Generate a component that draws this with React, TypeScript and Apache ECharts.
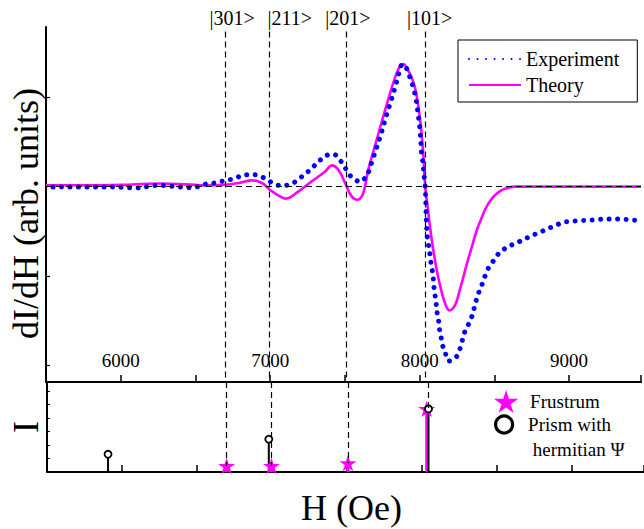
import { useEffect, useRef } from 'react';
import * as echarts from 'echarts';

// ---------- data ----------
const X_MIN = 5500;
const X_MAX = 9481;
const xTickLabels = [6000, 7000, 8000, 9000];

const expH = [
  5547, 5603, 5654, 5710, 5765, 5820, 5870, 5925, 5980, 6036, 6080, 6142, 6191, 6246, 6302, 6353, 6409, 6464, 6517, 6569, 6624,
  6675, 6730, 6786, 6839, 6890, 6945, 6997, 7052, 7105, 7161, 7214, 7268, 7318, 7372, 7423, 7474, 7545, 7603, 7649, 7678,
  7700, 7722, 7740, 7756, 7774, 7789, 7807, 7824, 7838, 7855, 7867, 7884, 7911, 7929, 7949, 7967, 7980, 7989, 8000, 8007,
  8011, 8022, 8029, 8037, 8040, 8043, 8045, 8051, 8062, 8071, 8077, 8089, 8095, 8104, 8111, 8117, 8127, 8133, 8144, 8155,
  8171, 8195, 8244, 8270, 8300, 8326, 8350, 8377, 8395, 8417, 8437, 8461, 8495, 8533, 8588, 8643, 8694, 8750, 8803, 8854,
  8906, 8961, 9014, 9065, 9121, 9176, 9232, 9287, 9342, 9398, 9449,
];
const expV = [
  -0.003, -0.003, -0.005, -0.005, -0.005, -0.005, -0.003, -0.003, -0.005, -0.01, -0.015, -0.012, 0.005, 0.015, 0.01, 0.003, -0.005, -0.012, 0.0, 0.03, 0.04,
  0.059, 0.078, 0.109, 0.134, 0.134, 0.109, 0.059, 0.015, 0.015, 0.048, 0.115, 0.19, 0.272, 0.347, 0.366, 0.283, 0.104, 0.056, 0.134, 0.265,
  0.377, 0.489, 0.582, 0.675, 0.78, 0.862, 0.955, 1.049, 1.131, 1.235, 1.31, 1.374, 1.329, 1.254, 1.161, 1.049, 0.937, 0.825, 0.675, 0.526,
  0.395, 0.265, 0.134, 0.003, -0.127, -0.277, -0.406, -0.557, -0.686, -0.781, -0.873, -0.985, -1.116, -1.228, -1.321, -1.414, -1.508, -1.601, -1.694, -1.788,
  -1.862, -1.956, -1.912, -1.817, -1.638, -1.545, -1.452, -1.284, -1.19, -1.097, -1.004, -0.91, -0.829, -0.742, -0.675, -0.635, -0.594, -0.549, -0.512, -0.474,
  -0.437, -0.4, -0.389, -0.381, -0.377, -0.373, -0.362, -0.362, -0.362, -0.37, -0.377,
];

const theoryH = [
  5500, 5800, 6000, 6250, 6500, 6523, 6702, 6790, 6879, 6945, 6997, 7057, 7105, 7190, 7278, 7368, 7412, 7456, 7501, 7545,
  7585, 7623, 7656, 7700, 7744, 7789, 7834, 7867, 7889, 7922, 7967, 8000, 8022, 8037, 8055, 8077, 8100, 8122, 8150, 8175,
  8200, 8225, 8244, 8270, 8288, 8320, 8344, 8380, 8410, 8440, 8477, 8515, 8555, 8600, 8633, 9000, 9481,
];
const theoryV = [
  0.015, 0.015, 0.02, 0.035, 0.02, 0.015, 0.022, 0.041, 0.071, 0.041, -0.034, -0.1, -0.134, -0.053, 0.059, 0.171, 0.239, 0.19, 0.041, -0.109,
  -0.146, -0.071, 0.19, 0.451, 0.713, 0.974, 1.217, 1.347, 1.374, 1.31, 1.123, 0.787, 0.414, 0.003, -0.25, -0.55, -0.8, -1.0, -1.2, -1.33,
  -1.389, -1.36, -1.302, -1.15, -1.041, -0.84, -0.705, -0.5, -0.37, -0.25, -0.146, -0.08, -0.034, -0.01, 0, 0, 0,
];

const stateLabels = ['|301>', '|211>', '|201>', '|101>'];
const stateH = [6698, 6997, 7507, 8040];
const stateLabelShift = [7, 20, 2, 4];

const frustrumH = [6698, 6997, 7507, 8032];
const frustrumI = [0.45, 0.45, 0.66, 4.66];
const prismH = [5907, 6979, 8044];
const prismI = [1.31, 2.42, 4.66];

const FONT = "'Liberation Serif', 'Times New Roman', serif";
const STAR =
  'path://M0,-10L2.245,-3.09L9.51,-3.09L3.633,1.18L5.88,8.09L0,3.82L-5.88,8.09L-3.633,1.18L-9.51,-3.09L-2.245,-3.09Z';

const zip = (a: number[], b: number[]) => a.map((v, i) => [v, b[i]]);

export default function App() {
  const ref = useRef<HTMLDivElement>(null);
  useEffect(() => {
    if (!ref.current) return;
    const chart = echarts.init(ref.current, null, { renderer: 'svg' });

    const axisLine = { show: true, onZero: false, lineStyle: { color: '#000', width: 2 } };
    const dash = { color: '#000', type: [6, 4], width: 1.2 };
    const stem = (color: string, width: number) => (params: any, api: any) => {
      const p0 = api.coord([api.value(0), 0]);
      const p1 = api.coord([api.value(0), api.value(1)]);
      return {
        type: 'line',
        shape: { x1: p0[0], y1: p0[1], x2: p1[0], y2: p1[1] },
        style: { stroke: color, lineWidth: width },
      };
    };

    chart.setOption({
      animation: false,
      backgroundColor: '#fff',
      textStyle: { fontFamily: FONT, color: '#000' },
      grid: [
        { left: 46, right: 0, top: 27, height: 355 },
        { left: 46, right: 0, top: 382, height: 90 },
      ],
      xAxis: [
        {
          type: 'value', gridIndex: 0, min: X_MIN, max: X_MAX, interval: 500,
          axisLine, splitLine: { show: false },
          axisTick: { inside: true, length: 7, lineStyle: { color: '#000', width: 1.5 } },
          axisLabel: {
            inside: true, margin: 12, fontSize: 19, fontFamily: FONT, color: '#000',
            formatter: (v: number) => (xTickLabels.includes(v) ? String(v) : ''),
          },
        },
        {
          type: 'value', gridIndex: 1, min: X_MIN, max: X_MAX, interval: 500,
          axisLine, splitLine: { show: false },
          axisTick: { inside: true, length: 7, lineStyle: { color: '#000', width: 1.5 } },
          axisLabel: { show: false },
          name: 'H (Oe)', nameLocation: 'middle', nameGap: 18,
          nameTextStyle: { fontSize: 36, fontFamily: FONT, color: '#000', padding: [0, 0, 0, 12] },
        },
      ],
      yAxis: [
        {
          type: 'value', gridIndex: 0, min: -2.19, max: 1.79,
          axisLine, splitLine: { show: false }, axisLabel: { show: false },
          axisTick: { inside: true, length: 4, customValues: [-2, -1, 0, 1], lineStyle: { color: '#000', width: 1.2 } },
          name: 'dI/dH (arb. units)', nameLocation: 'middle', nameGap: 2,
          nameTextStyle: { fontSize: 36, fontFamily: FONT, color: '#000', padding: [0, 18, 0, 0] },
        },
        {
          type: 'value', gridIndex: 1, min: 0, max: 6.65, interval: 1,
          axisLine, splitLine: { show: false }, axisLabel: { show: false },
          axisTick: { inside: true, length: 3, lineStyle: { color: '#000', width: 1 } },
          name: 'I', nameLocation: 'middle', nameGap: 3,
          nameTextStyle: { fontSize: 36, fontFamily: FONT, color: '#000' },
        },
      ],
      legend: [
        {
          data: ['Experiment', 'Theory'], orient: 'vertical', left: 458, top: 40,
          padding: [9, 18, 7, 10], itemGap: 6, itemWidth: 52, itemHeight: 14,
          borderColor: '#000', borderWidth: 1, backgroundColor: '#fff',
          itemStyle: { opacity: 0 },
          textStyle: { fontSize: 20, fontFamily: FONT, color: '#000' },
        },
        {
          data: ['Frustrum'], orient: 'vertical', left: 494, top: 390, padding: 0,
          itemWidth: 38, itemHeight: 23,
          textStyle: { fontSize: 19, fontFamily: FONT, color: '#000' },
        },
        {
          data: ['Prism with hermitian Ψ'], orient: 'vertical', left: 494, top: 387, padding: 0,
          itemWidth: 38, itemHeight: 17,
          itemStyle: { borderWidth: 3.2, borderColor: '#000', color: '#fff' },
          formatter: () => '\nPrism with\n hermitian Ψ',
          textStyle: { fontSize: 19, fontFamily: FONT, color: '#000', lineHeight: 25 },
        },
      ],
      series: [
        {
          name: 'Theory', type: 'line', xAxisIndex: 0, yAxisIndex: 0,
          data: zip(theoryH, theoryV), smooth: 0.4, symbol: 'none',
          lineStyle: { color: '#ff00ff', width: 2.6 }, itemStyle: { color: '#ff00ff' },
          markLine: {
            silent: true, symbol: 'none', animation: false,
            lineStyle: dash,
            data: [
              { yAxis: 0, label: { show: false }, lineStyle: dash },
              ...stateH.map((h, i) => [
                {
                  coord: [h, 1.74],
                  lineStyle: dash,
                  label: {
                    show: true, position: 'start', distance: 3, formatter: stateLabels[i],
                    fontSize: 20, fontFamily: FONT, color: '#000', offset: [stateLabelShift[i], 0],
                  },
                },
                { coord: [h, -2.19] },
              ]),
            ],
          },
        },
        {
          name: 'Experiment', type: 'line', xAxisIndex: 0, yAxisIndex: 0,
          data: zip(expH, expV), smooth: 0.3, symbol: 'none',
          lineStyle: { color: '#0000ff', width: 5, type: [0.01, 8.5], cap: 'round' },
          itemStyle: { color: '#0000ff' },
        },
        {
          name: 'frustrum-stems', type: 'custom', xAxisIndex: 1, yAxisIndex: 1,
          data: zip(frustrumH, frustrumI), renderItem: stem('#ff00ff', 3), encode: { x: 0, y: 1 }, z: 2,
        },
        {
          name: 'prism-stems', type: 'custom', xAxisIndex: 1, yAxisIndex: 1,
          data: zip(prismH, prismI), renderItem: stem('#000', 2), encode: { x: 0, y: 1 }, z: 2,
        },
        {
          name: 'Frustrum', type: 'scatter', xAxisIndex: 1, yAxisIndex: 1,
          data: zip(frustrumH, frustrumI), symbol: STAR, symbolSize: 17, symbolKeepAspect: true,
          itemStyle: { color: '#ff00ff', opacity: 1 }, z: 3,
          markLine: {
            silent: true, symbol: 'none', animation: false,
            lineStyle: dash,
            label: { show: false },
            data: stateH.map((h, i) => [{ coord: [h, 6.65] }, { coord: [h, frustrumI[i]] }]),
          },
        },
        {
          name: 'Prism with hermitian Ψ', type: 'scatter', xAxisIndex: 1, yAxisIndex: 1,
          data: zip(prismH, prismI), symbol: 'circle', symbolSize: 7,
          itemStyle: { color: '#fff', borderColor: '#000', borderWidth: 1.8, opacity: 1 }, z: 4,
        },
      ],
    });
    return () => chart.dispose();
  }, []);
  return <div ref={ref} style={{ position: 'absolute', left: 0, top: 0, width: 644, height: 529 }} />;
}
